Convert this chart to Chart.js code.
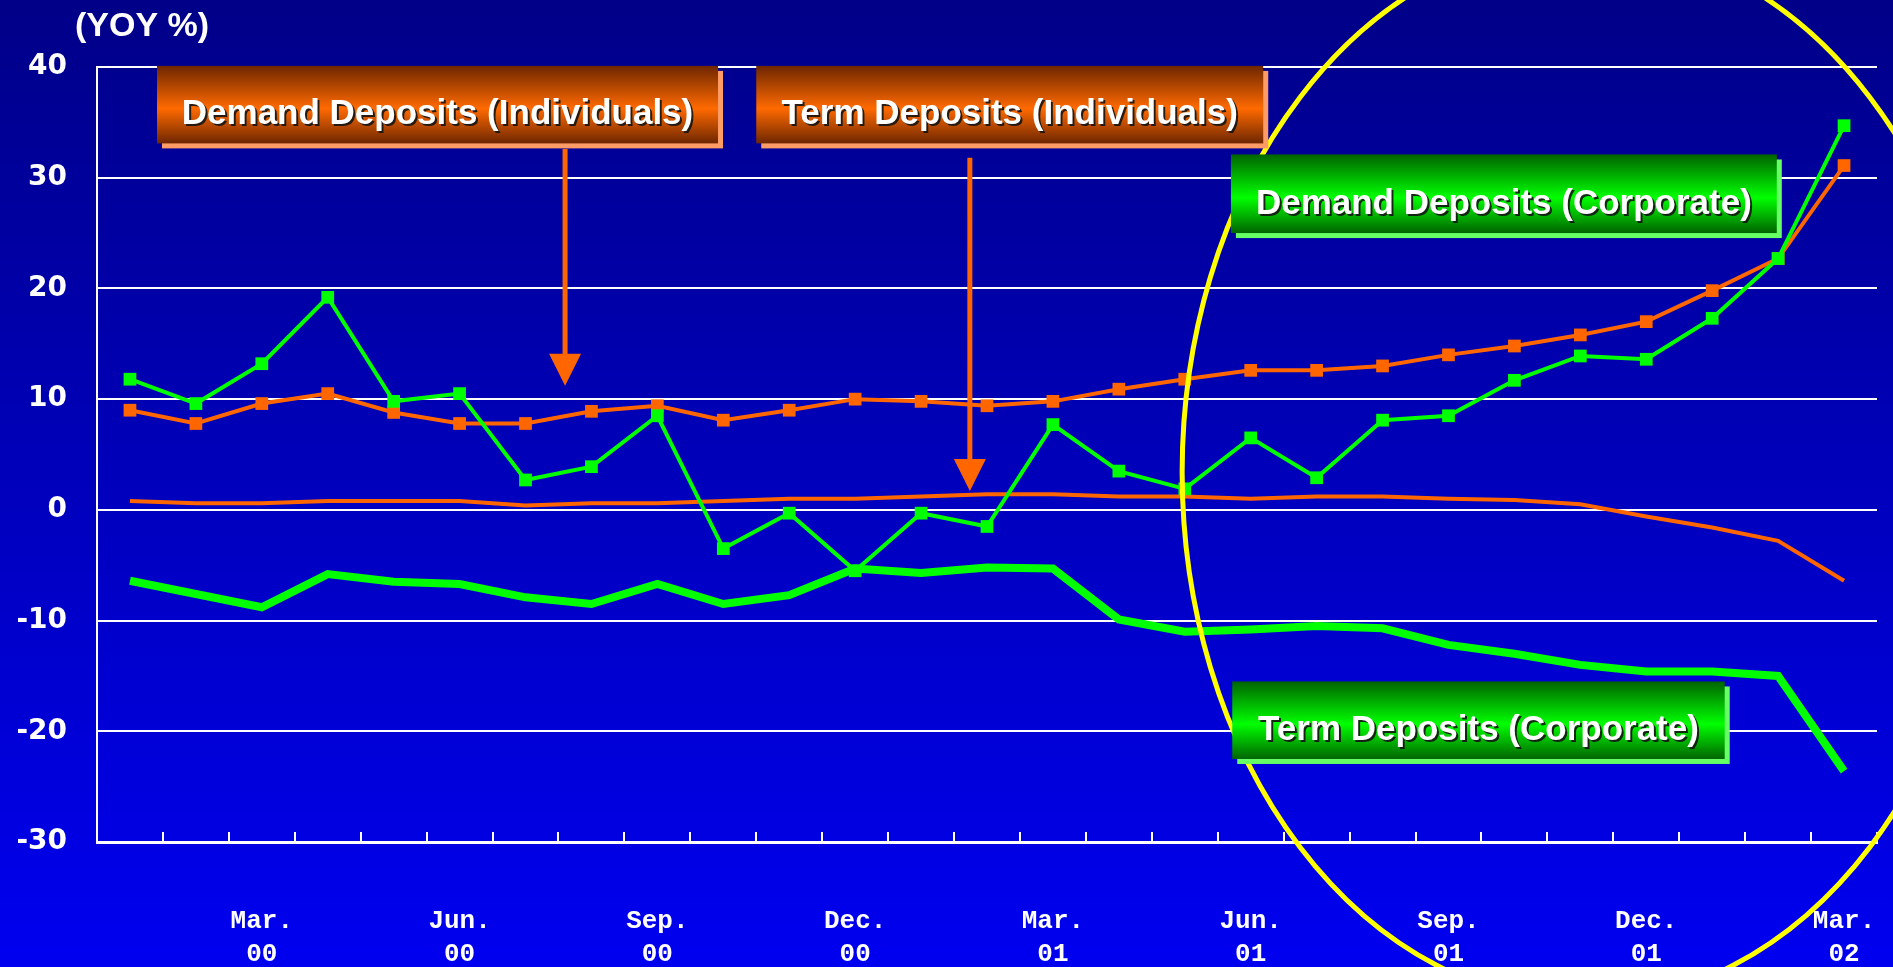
<!DOCTYPE html>
<html>
<head>
<meta charset="utf-8">
<script src="https://cdn.jsdelivr.net/npm/chart.js@4.4.1/dist/chart.umd.min.js"></script>
<style>
  html, body { margin: 0; padding: 0; background: #0000a0; }
  #wrap { width: 1893px; height: 967px; }
</style>
</head>
<body>
<div id="wrap"><canvas id="chart" width="1893" height="967"></canvas></div>
<script>
// monthly, Jan.00 .. Mar.02
const categories = ['Jan. 00', 'Feb. 00', 'Mar. 00', 'Apr. 00', 'May 00', 'Jun. 00', 'Jul. 00', 'Aug. 00', 'Sep. 00',
    'Oct. 00', 'Nov. 00', 'Dec. 00', 'Jan. 01', 'Feb. 01', 'Mar. 01', 'Apr. 01', 'May 01', 'Jun. 01',
    'Jul. 01', 'Aug. 01', 'Sep. 01', 'Oct. 01', 'Nov. 01', 'Dec. 01', 'Jan. 02', 'Feb. 02', 'Mar. 02'];
const shownMonths = ['Mar.', 'Jun.', 'Sep.', 'Dec.'];

const demandIndividuals = [9.0, 7.8, 9.6, 10.5, 8.8, 7.8, 7.8, 8.9, 9.4, 8.1, 9.0, 10.0, 9.8, 9.4, 9.8,
    10.9, 11.8, 12.6, 12.6, 13.0, 14.0, 14.8, 15.8, 17.0, 19.8, 22.7, 31.1];
const demandCorporate = [11.8, 9.6, 13.2, 19.2, 9.8, 10.5, 2.7, 3.9, 8.5, -3.5, -0.3, -5.5, -0.3, -1.5, 7.7,
    3.5, 1.9, 6.5, 2.9, 8.1, 8.5, 11.7, 13.9, 13.6, 17.3, 22.7, 34.7];
const termIndividuals = [0.8, 0.6, 0.6, 0.8, 0.8, 0.8, 0.4, 0.6, 0.6, 0.8, 1.0, 1.0, 1.2, 1.4, 1.4,
    1.2, 1.2, 1.0, 1.2, 1.2, 1.0, 0.9, 0.5, -0.6, -1.6, -2.8, -6.4];
const termCorporate = [-6.4, -7.6, -8.8, -5.8, -6.5, -6.7, -7.9, -8.5, -6.7, -8.5, -7.7, -5.3, -5.7, -5.2, -5.3,
    -9.9, -11.0, -10.8, -10.5, -10.7, -12.2, -13.0, -14.0, -14.6, -14.6, -15.0, -23.6];

const yTicks = [-30, -20, -10, 0, 10, 20, 30, 40];

const ORANGE = '#ff6600';
const GREEN = '#00ff00';

// callouts placed in chart units (category index, value)
const boxes = [
    { text: 'Demand Deposits (Individuals)', x0: 0.41, x1: 8.92, top: 40.1, bottom: 33.1, tone: 'orange' },
    { text: 'Term Deposits (Individuals)', x0: 9.5, x1: 17.19, top: 40.1, bottom: 33.1, tone: 'orange' },
    { text: 'Demand Deposits (Corporate)', x0: 16.7, x1: 24.98, top: 32.1, bottom: 25.0, tone: 'green' },
    { text: 'Term Deposits (Corporate)', x0: 16.72, x1: 24.19, top: -15.5, bottom: -22.5, tone: 'green' }
];
const arrows = [
    { x: 6.6, from: 32.6, to: 11.2 },
    { x: 12.74, from: 31.8, to: 1.7 }
];
const ring = { cx: 22.07, cy: 3.4, rx: 6.11, ry: 47.9 };

const tones = {
    orange: { dark: '#6e2600', light: '#ff6a00', shadow: '#ff9c66' },
    green: { dark: '#006400', light: '#00ff00', shadow: '#66ff66' }
};

const background = {
    id: 'background',
    beforeDraw(chart) {
        const ctx = chart.ctx;
        const g = ctx.createLinearGradient(0, 0, 0, chart.height);
        g.addColorStop(0, '#000088');
        g.addColorStop(1, '#0000f0');
        ctx.save();
        ctx.fillStyle = g;
        ctx.fillRect(0, 0, chart.width, chart.height);
        ctx.restore();
    }
};

const callouts = {
    id: 'callouts',
    afterDraw(chart) {
        const ctx = chart.ctx;
        const xs = chart.scales.x, ys = chart.scales.y;
        const px = v => xs.getPixelForValue(v);
        const py = v => ys.getPixelForValue(v);

        // title
        ctx.save();
        ctx.fillStyle = '#ffffff';
        ctx.font = 'bold 34px "Liberation Sans", Arial, sans-serif';
        ctx.textBaseline = 'alphabetic';
        ctx.fillText('(YOY %)', 75, 36);
        ctx.restore();

        // yellow ring
        ctx.save();
        ctx.strokeStyle = '#ffff00';
        ctx.lineWidth = 5;
        ctx.beginPath();
        const cx = px(ring.cx), cy = py(ring.cy);
        ctx.ellipse(cx, cy, px(ring.cx + ring.rx) - cx, cy - py(ring.cy + ring.ry), 0, 0, Math.PI * 2);
        ctx.stroke();
        ctx.restore();

        // arrows
        arrows.forEach(a => {
            const x = px(a.x), y0 = py(a.from), y1 = py(a.to);
            ctx.save();
            ctx.strokeStyle = ORANGE;
            ctx.fillStyle = ORANGE;
            ctx.lineWidth = 5;
            ctx.beginPath();
            ctx.moveTo(x, y0);
            ctx.lineTo(x, y1 - 30);
            ctx.stroke();
            ctx.beginPath();
            ctx.moveTo(x - 16, y1 - 32);
            ctx.lineTo(x + 16, y1 - 32);
            ctx.lineTo(x, y1);
            ctx.closePath();
            ctx.fill();
            ctx.restore();
        });

        // boxes
        boxes.forEach(b => {
            const t = tones[b.tone];
            const x0 = px(b.x0), x1 = px(b.x1), y0 = py(b.top), y1 = py(b.bottom);
            const w = x1 - x0, h = y1 - y0;
            ctx.save();
            ctx.fillStyle = t.shadow;
            ctx.fillRect(x0 + 5, y0 + 5, w, h);
            const g = ctx.createLinearGradient(0, y0, 0, y1);
            g.addColorStop(0, t.dark);
            g.addColorStop(0.55, t.light);
            g.addColorStop(1, t.dark);
            ctx.fillStyle = g;
            ctx.fillRect(x0, y0, w, h);
            ctx.font = 'bold 35px "Liberation Sans", Arial, sans-serif';
            ctx.textAlign = 'center';
            ctx.textBaseline = 'alphabetic';
            const tx = x0 + w / 2, ty = y1 - 19;
            ctx.fillStyle = 'rgba(20,20,20,0.9)';
            ctx.fillText(b.text, tx + 2, ty + 2);
            ctx.fillStyle = '#ffffff';
            ctx.fillText(b.text, tx, ty);
            ctx.restore();
        });
    }
};

const chart = document.querySelector('#chart').getContext('2d');
new Chart(chart, {
    type: 'line',
    data: {
        labels: categories,
        datasets: [{
                label: 'Demand Deposits (Corporate)',
                data: demandCorporate,
                borderColor: GREEN,
                backgroundColor: GREEN,
                borderWidth: 4,
                pointStyle: 'rect',
                pointRadius: 9,
                pointBorderWidth: 0
            },
            {
                label: 'Term Deposits (Corporate)',
                data: termCorporate,
                borderColor: GREEN,
                borderWidth: 8,
                pointRadius: 0
            },
            {
                label: 'Demand Deposits (Individuals)',
                data: demandIndividuals,
                borderColor: ORANGE,
                backgroundColor: ORANGE,
                borderWidth: 4,
                pointStyle: 'rect',
                pointRadius: 9,
                pointBorderWidth: 0
            },
            {
                label: 'Term Deposits (Individuals)',
                data: termIndividuals,
                borderColor: ORANGE,
                borderWidth: 4,
                pointRadius: 0
            }
        ]
    },
    options: {
        responsive: false,
        animation: false,
        devicePixelRatio: 1,
        layout: { padding: { top: 67, right: 16, left: 0, bottom: 0 } },
        plugins: {
            legend: { display: false },
            tooltip: { enabled: false }
        },
        elements: { line: { tension: 0, borderJoinStyle: 'miter' } },
        scales: {
            x: {
                offset: true,
                afterFit: s => {
                    s.height = 125;
                    s.paddingLeft = 0;
                    s.paddingRight = 0;
                },
                grid: {
                    offset: true,
                    drawOnChartArea: false,
                    drawTicks: true,
                    tickLength: -10,
                    color: '#ffffff',
                    lineWidth: 2
                },
                border: { display: true, color: '#ffffff', width: 3 },
                ticks: {
                    autoSkip: false,
                    maxRotation: 0,
                    padding: 73,
                    color: '#ffffff',
                    font: { family: '"Liberation Mono", "Courier New", monospace', size: 26, weight: 'bold', lineHeight: 1.27 },
                    callback: function(val, i) {
                        const parts = categories[i].split(' ');
                        return shownMonths.includes(parts[0]) ? parts : '';
                    }
                }
            },
            y: {
                min: yTicks[0],
                max: yTicks[yTicks.length - 1],
                afterFit: s => {
                    s.width = 97;
                    s.paddingTop = 0;
                    s.paddingBottom = 0;
                },
                afterBuildTicks: s => { s.ticks = yTicks.map(v => ({ value: v })); },
                grid: { color: '#ffffff', lineWidth: 2, drawTicks: false },
                border: { display: true, color: '#ffffff', width: 2 },
                ticks: {
                    padding: 30,
                    color: '#ffffff',
                    font: { family: '"DejaVu Sans", Verdana, sans-serif', size: 28, weight: 'bold' }
                }
            }
        }
    },
    plugins: [background, callouts]
});
</script>
</body>
</html>
